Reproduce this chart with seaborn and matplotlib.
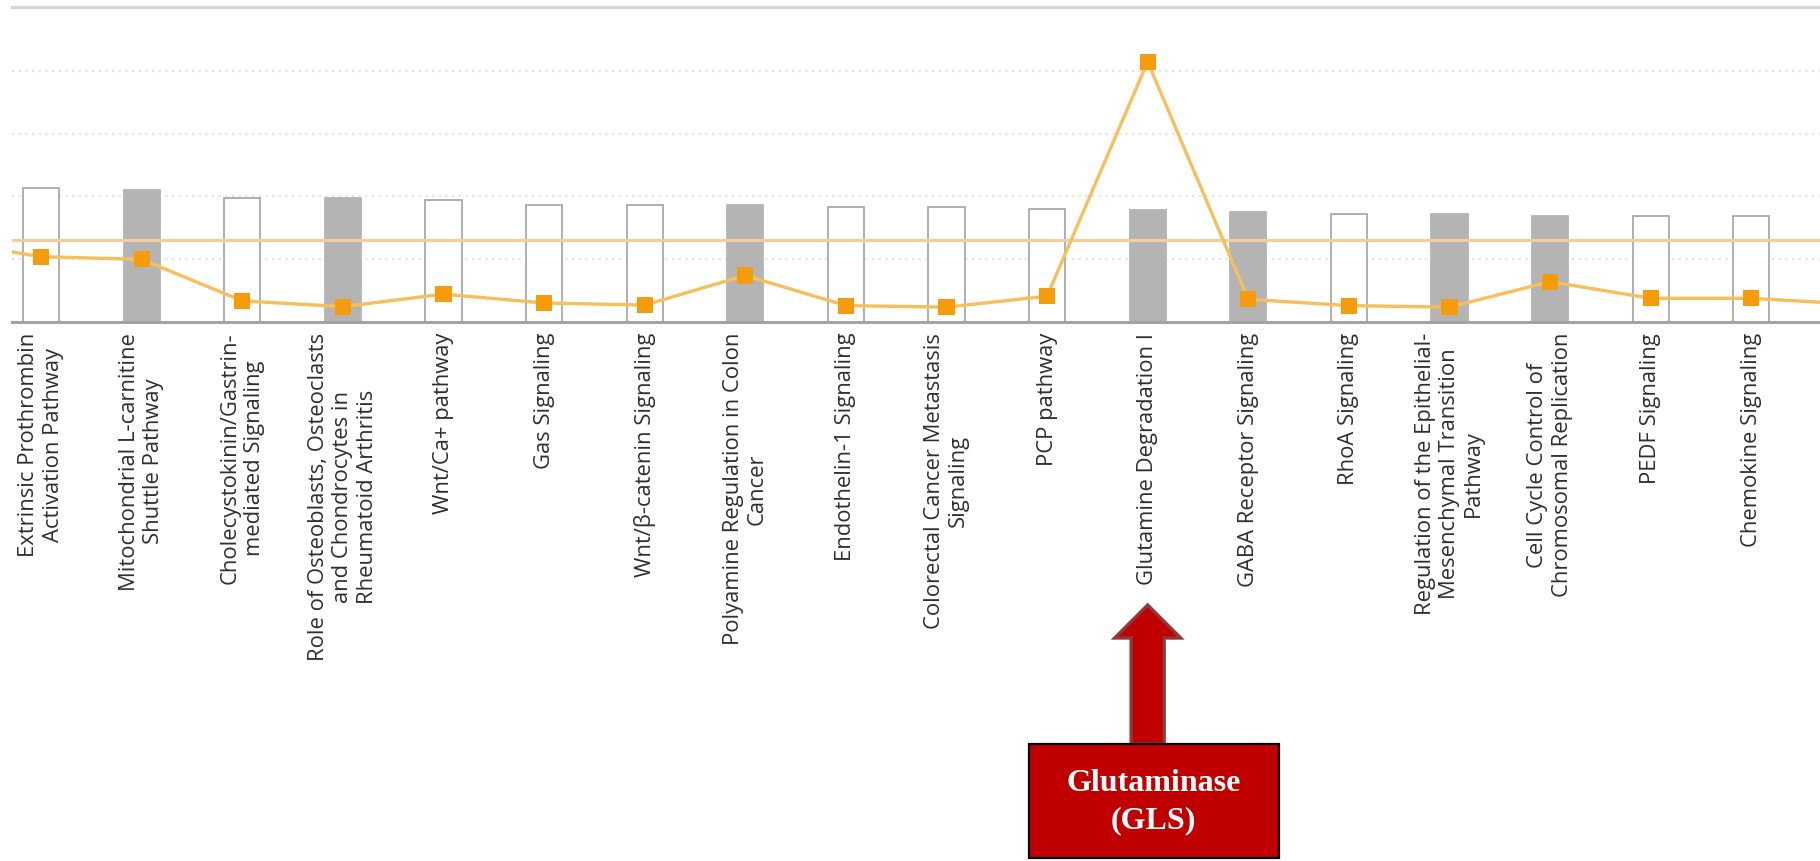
import numpy as np
import pandas as pd
import matplotlib
matplotlib.use("Agg")
import matplotlib.pyplot as plt
import seaborn as sns
from matplotlib.patches import Polygon, Rectangle

# Canonical pathways (x categories), with line breaks as displayed
pathways = [
    "Extrinsic Prothrombin\nActivation Pathway",
    "Mitochondrial L-carnitine\nShuttle Pathway",
    "Cholecystokinin/Gastrin-\nmediated Signaling",
    "Role of Osteoblasts, Osteoclasts\nand Chondrocytes in\nRheumatoid Arthritis",
    "Wnt/Ca+ pathway",
    "Gas Signaling",
    "Wnt/β-catenin Signaling",
    "Polyamine Regulation in Colon\nCancer",
    "Endothelin-1 Signaling",
    "Colorectal Cancer Metastasis\nSignaling",
    "PCP pathway",
    "Glutamine Degradation I",
    "GABA Receptor Signaling",
    "RhoA Signaling",
    "Regulation of the Epithelial-\nMesenchymal Transition\nPathway",
    "Cell Cycle Control of\nChromosomal Replication",
    "PEDF Signaling",
    "Chemokine Signaling",
]

# -log(p-value) per pathway (bars)
neg_log_p = [2.13, 2.10, 1.98, 1.97, 1.94, 1.87, 1.87, 1.86, 1.83,
             1.83, 1.80, 1.79, 1.75, 1.72, 1.72, 1.69, 1.69, 1.69]

# True where no activity pattern is available (grey filled bars)
no_activity = [False, True, False, True, False, False, False, True, False,
               False, False, True, True, False, True, True, False, False]

# Ratio of dataset molecules to pathway molecules (orange line)
ratio = [0.125, 0.120, 0.040, 0.029, 0.053, 0.036, 0.032, 0.089, 0.031,
         0.028, 0.049, 0.500, 0.043, 0.031, 0.028, 0.077, 0.045, 0.045]
# neighbouring pathways just outside the visible range
ratio_before = 0.157
ratio_after = 0.034

threshold = 1.3  # -log(0.05)
highlight = "Glutamine Degradation I"
callout_text = "Glutaminase\n(GLS)"

sns.set_style("white")
plt.rcParams["font.family"] = ["Open Sans", "DejaVu Sans"]

W, H = 1820, 861
fig = plt.figure(figsize=(W / 100, H / 100), dpi=100)
ax_left, ax_top, ax_bottom = 12, 7.3, 321.7
ax = fig.add_axes([ax_left / W, 1 - ax_bottom / H, 1 - ax_left / W,
                   (ax_bottom - ax_top) / H])

n = len(pathways)
df = pd.DataFrame({"pathway": pathways, "neg_log_p": neg_log_p})
sns.barplot(data=df, x="pathway", y="neg_log_p", order=pathways, width=0.36,
            color="#b3b3b3", saturation=1, errorbar=None, ax=ax, zorder=2)
for patch, grey in zip(ax.patches, no_activity):
    if grey:
        patch.set_facecolor("#b4b4b4")
        patch.set_edgecolor("#b4b4b4")
    else:
        patch.set_facecolor("white")
        patch.set_edgecolor("#a9a9a9")
    patch.set_linewidth(1.3)

ymax = 5.02
ax.set_ylim(0, ymax)
ax.set_yticks([1, 2, 3, 4])
ax.yaxis.grid(True, color="#e4e4e4", linestyle=(0, (1, 2)), linewidth=1.6)
ax.xaxis.grid(False)
ax.set_axisbelow(True)
ax.tick_params(axis="y", length=0, labelleft=False)
ax.axhline(threshold, color="#f4cd9c", linewidth=2.2, zorder=3)

for side in ("left", "right"):
    ax.spines[side].set_visible(False)
ax.spines["top"].set_color("#d6d6d6")
ax.spines["top"].set_linewidth(2.4)
ax.spines["bottom"].set_color("#a3a3a3")
ax.spines["bottom"].set_linewidth(2.2)

ax.set_xticks(range(n))
ax.set_xticklabels(pathways, rotation=90, ha="center", va="top",
                   multialignment="center", fontsize=15.8, color="#2e2e2e")
ax.tick_params(axis="x", length=0, pad=8)
ax.set_xlabel("")
ax.set_ylabel("")

# ratio on a secondary axis
ax2 = ax.twinx()
line_x = np.arange(-1, n + 1)
line_y = [ratio_before] + ratio + [ratio_after]
sns.lineplot(x=line_x, y=line_y, ax=ax2, color="#f6bf5c", linewidth=2.4,
             zorder=4)
sns.scatterplot(x=np.arange(n), y=ratio, ax=ax2, marker="s", s=135,
                color="#f59b0c", edgecolor="none", zorder=5)
ax2.set_ylim(0, ymax * ratio[pathways.index(highlight)] / 4.15)
ax2.set_xlabel("")
ax2.set_ylabel("")
ax2.set_yticks([])
for s in ax2.spines.values():
    s.set_visible(False)

xlo = -0.289
xhi = xlo + (W - ax_left) / 100.6
ax.set_xlim(xlo, xhi)
ax2.set_xlim(xlo, xhi)

# call-out arrow and box under the highlighted pathway
fig.canvas.draw()
gi = pathways.index(highlight)
cx = ax.transData.transform((gi, 0))[0]


def fpt(x, y):
    return (x / W, 1 - y / H)


tip, head_base, shaft_bottom = 605, 638, 744
arrow_pts = [fpt(cx, tip), fpt(cx + 33, head_base), fpt(cx + 16.5, head_base),
             fpt(cx + 16.5, shaft_bottom), fpt(cx - 16.5, shaft_bottom),
             fpt(cx - 16.5, head_base), fpt(cx - 33, head_base)]
fig.patches.append(Polygon(arrow_pts, closed=True, transform=fig.transFigure,
                           facecolor="#c00000", edgecolor="#94373a",
                           linewidth=2.4, joinstyle="miter"))
box_l, box_w, box_t, box_h = cx - 119, 250, 744, 114
fig.patches.append(Rectangle(fpt(box_l, box_t + box_h), box_w / W, box_h / H,
                             transform=fig.transFigure, facecolor="#c00000",
                             edgecolor="black", linewidth=1.6))
fig.text((box_l + box_w / 2) / W, 1 - (box_t + box_h / 2 + 1) / H,
         callout_text, ha="center", va="center", color="white",
         fontsize=23, fontweight="bold", family="Liberation Serif",
         linespacing=1.35)

fig.savefig("out.png", dpi=100, facecolor="white")
